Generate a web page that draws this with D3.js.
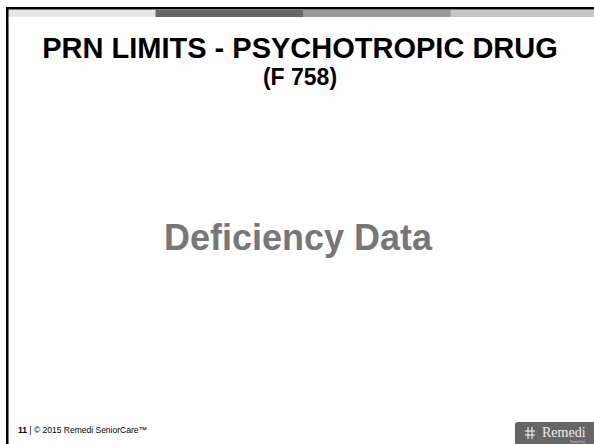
<!DOCTYPE html>
<html>
<head>
<meta charset="utf-8">
<script src="https://cdn.jsdelivr.net/npm/d3@7/dist/d3.min.js"></script>
<style>
  body { margin: 0; background: #fff; }
  svg { display: block; font-family: Arial, "Liberation Sans", sans-serif; }
</style>
</head>
<body>
<div id="viz"></div>
<script>
//==============================================================================
// Slide content
var titleLines = ["PRN LIMITS - PSYCHOTROPIC DRUG", "(F 758)"];
var bodyText = "Deficiency Data";
var slideNumber = "11";
var footerText = "© 2015 Remedi SeniorCare™";
var stripeColors = ["#e6e6e6", "#666666", "#999999", "#c6c6c6"];
var logoText = "Remedi";

var width = 594, height = 444;

var svg = d3.select("#viz").append("svg")
  .attr("width", width)
  .attr("height", height);

//==============================================================================
// Frame lines and colour stripe
var stripeScale = d3.scaleBand()
  .domain(d3.range(stripeColors.length))
  .range([8, 598]);

svg.append("g").selectAll("rect")
  .data(stripeColors)
  .enter().append("rect")
  .attr("x", function(d, i) { return stripeScale(i); })
  .attr("y", 10)
  .attr("width", stripeScale.bandwidth() + 0.5)
  .attr("height", 7)
  .attr("fill", function(d) { return d; });

svg.append("rect").attr("x", 6).attr("y", 7).attr("width", width - 6).attr("height", 2.5).attr("fill", "#000");
svg.append("rect").attr("x", 6).attr("y", 7).attr("width", 2.5).attr("height", height - 7).attr("fill", "#000");

//==============================================================================
// Title
svg.append("g").selectAll("text")
  .data(titleLines)
  .enter().append("text")
  .attr("x", 300)
  .attr("y", function(d, i) { return i === 0 ? 58 : 85; })
  .attr("text-anchor", "middle")
  .attr("font-weight", "bold")
  .attr("font-size", function(d, i) { return i === 0 ? 29 : 23; })
  .attr("fill", "#000")
  .text(function(d) { return d; });

// Body
svg.append("text")
  .attr("x", 298)
  .attr("y", 250)
  .attr("text-anchor", "middle")
  .attr("font-weight", "bold")
  .attr("font-size", 36)
  .attr("fill", "#777")
  .text(bodyText);

//==============================================================================
// Footer
var foot = svg.append("text")
  .attr("x", 18)
  .attr("y", 433)
  .attr("font-size", 8.5)
  .attr("fill", "#000");
foot.append("tspan").attr("font-weight", "bold").text(slideNumber);
foot.append("tspan").text("  |  " + footerText);

// Logo badge
var logo = svg.append("g").attr("transform", "translate(515,422)");
logo.append("rect")
  .attr("width", 84).attr("height", 26)
  .attr("rx", 3)
  .attr("fill", "#666");
var hash = logo.append("g").attr("stroke", "#e8e8e8").attr("stroke-width", 1.2);
[[13, 5, 13, 17], [17, 5, 17, 17], [10, 9, 20, 9], [10, 13, 20, 13]].forEach(function(l) {
  hash.append("line").attr("x1", l[0]).attr("y1", l[1]).attr("x2", l[2]).attr("y2", l[3]);
});
logo.append("text")
  .attr("x", 27).attr("y", 15)
  .attr("font-family", "'Liberation Serif', 'DejaVu Serif', serif")
  .attr("font-size", 14)
  .attr("fill", "#eee")
  .text(logoText);
logo.append("text")
  .attr("x", 55).attr("y", 20.5)
  .attr("font-size", 3)
  .attr("fill", "#ccc")
  .text("SeniorCare");
</script>
</body>
</html>
